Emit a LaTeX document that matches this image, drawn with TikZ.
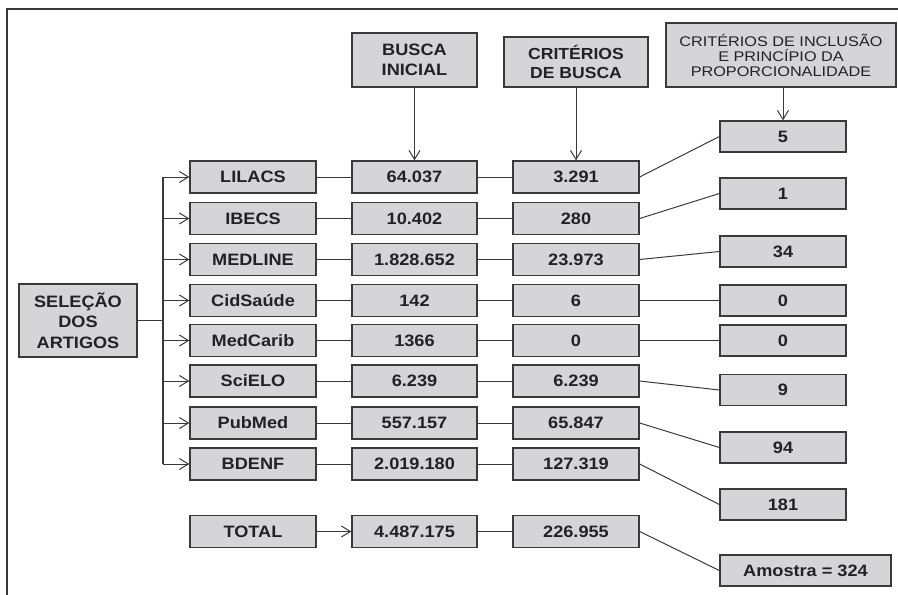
\documentclass[tikz,border=0pt]{standalone}
\usepackage{fontspec}
\setmainfont{Liberation Sans}
\newfontfamily\bxf[FakeStretch=1.1]{Liberation Sans Bold}
\newfontfamily\rgf[FakeStretch=1.16]{Liberation Sans}
\usetikzlibrary{arrows.meta}
\definecolor{boxfill}{HTML}{D5D5D7}
\definecolor{edgec}{HTML}{3A3A3A}
\definecolor{txtc}{HTML}{222222}
\begin{document}
\begin{tikzpicture}[x=1pt,y=-1pt,
  box/.style={draw=edgec, line width=1.3pt, fill=boxfill, minimum width=126pt, minimum height=32pt,
    inner sep=0pt, font=\bxf\fontsize{16.5}{20}\selectfont, text=txtc, align=center},
  conn/.style={draw=edgec, line width=1pt},
  arr/.style={conn, -{Straight Barb[length=9pt,width=11pt,line width=1pt]}},
  trunk/.style={draw=edgec, line width=1.6pt}]
\useasboundingbox (0,0) rectangle (898,595);
% frame
\draw[draw=edgec, line width=1.2pt] (7,595) -- (7,9) -- (898,9);

% headers
\node[box, minimum width=125pt, minimum height=54pt] (h1) at (414.5,60) {BUSCA\\INICIAL};
\node[box, minimum width=144pt, minimum height=50pt, font=\bxf\fontsize{16}{18.5}\selectfont] (h2) at (576,62) {CRITÉRIOS\\DE BUSCA};
\node[box, minimum width=230pt, minimum height=64pt, font=\rgf\fontsize{14}{15}\selectfont] (h3) at (781,55) {CRITÉRIOS DE INCLUSÃO\\E PRINCÍPIO DA\\PROPORCIONALIDADE};

% selection
\node[box, minimum width=118pt, minimum height=73pt, font=\bxf\fontsize{16.5}{20.5}\selectfont] (sel) at (78,320.5) {SELEÇÃO\\DOS\\ARTIGOS};

% column A
\node[box] (a1) at (253,177) {LILACS};
\node[box] (a2) at (253,218.5) {IBECS};
\node[box] (a3) at (253,259.5) {MEDLINE};
\node[box] (a4) at (253,300.5) {CidSaúde};
\node[box] (a5) at (253,340.5) {MedCarib};
\node[box] (a6) at (253,381) {SciELO};
\node[box] (a7) at (253,423) {PubMed};
\node[box] (a8) at (253,464) {BDENF};
\node[box] (a9) at (253,531.5) {TOTAL};

% column B
\node[box, minimum width=125pt] (b1) at (414.5,177) {64.037};
\node[box, minimum width=125pt] (b2) at (414.5,218.5) {10.402};
\node[box, minimum width=125pt] (b3) at (414.5,259.5) {1.828.652};
\node[box, minimum width=125pt] (b4) at (414.5,300.5) {142};
\node[box, minimum width=125pt] (b5) at (414.5,340.5) {1366};
\node[box, minimum width=125pt] (b6) at (414.5,381) {6.239};
\node[box, minimum width=125pt] (b7) at (414.5,423) {557.157};
\node[box, minimum width=125pt] (b8) at (414.5,464) {2.019.180};
\node[box, minimum width=125pt] (b9) at (414.5,531.5) {4.487.175};

% column C
\node[box] (c1) at (576,177) {3.291};
\node[box] (c2) at (576,218.5) {280};
\node[box] (c3) at (576,259.5) {23.973};
\node[box] (c4) at (576,300.5) {6};
\node[box] (c5) at (576,340.5) {0};
\node[box] (c6) at (576,381) {6.239};
\node[box] (c7) at (576,423) {65.847};
\node[box] (c8) at (576,464) {127.319};
\node[box] (c9) at (576,531.5) {226.955};

% column D
\node[box, minimum height=31pt] (d1) at (783,136.5) {5};
\node[box, minimum height=31pt] (d2) at (783,193.5) {1};
\node[box, minimum height=31pt] (d3) at (783,251.5) {34};
\node[box, minimum height=31pt] (d4) at (783,300.5) {0};
\node[box, minimum height=31pt] (d5) at (783,340.5) {0};
\node[box, minimum height=31pt] (d6) at (783,390) {9};
\node[box, minimum height=31pt] (d7) at (783,447.5) {94};
\node[box, minimum height=31pt] (d8) at (783,504.5) {181};
\node[box, minimum height=31pt, minimum width=171pt] (d9) at (805.5,570.5) {Amostra = 324};

% trunk
\coordinate (trtop) at (163,177);
\coordinate (trbot) at (163,464);
\draw[trunk] (trtop) -- (trbot);
\draw[trunk] (sel.east) -- (sel.east -| trtop);
\foreach \i in {1,...,8} {
  \draw[arr] (a\i.west -| trtop) -- (a\i.west);
}

% row connectors
\foreach \i in {1,...,8} {
  \draw[conn] (a\i.east) -- (b\i.west);
}
\draw[arr] (a9.east) -- (b9.west);
\foreach \i in {1,...,9} {
  \draw[conn] (b\i.east) -- (c\i.west);
  \draw[conn] (c\i.east) -- (d\i.west);
}

% header arrows
\draw[arr] (h1.south) -- (b1.north);
\draw[arr] (h2.south) -- (c1.north);
\draw[arr] (h3.south -| d1.north) -- (d1.north);
\end{tikzpicture}
\end{document}
